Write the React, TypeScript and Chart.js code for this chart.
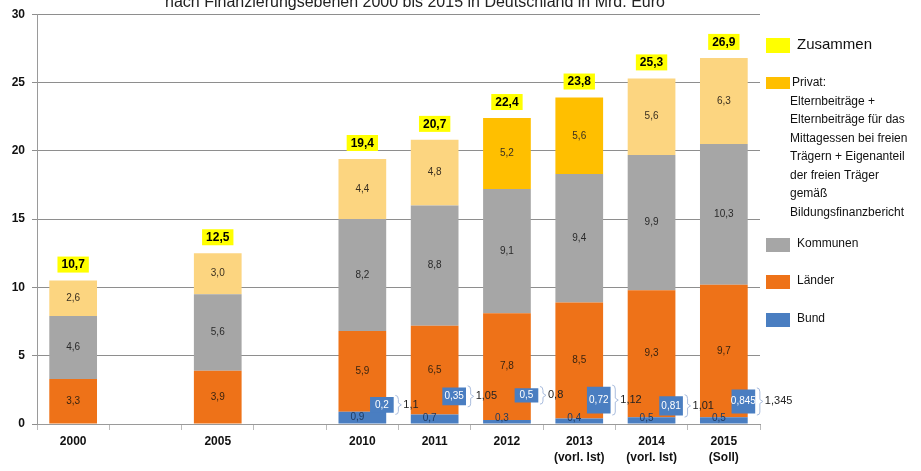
import React, { useEffect, useRef } from 'react';
import { Chart, registerables } from 'chart.js';

Chart.register(...registerables);

const FONT = "'Liberation Sans Narrow', 'Liberation Sans', Arial, sans-serif";

const titleText = 'nach Finanzierungsebenen 2000 bis 2015 in Deutschland in Mrd. Euro';

const categories: (string | string[])[] = [
  '2000', '', '2005', '', '2010', '2011', '2012',
  ['2013', '(vorl. Ist)'], ['2014', '(vorl. Ist)'], ['2015', '(Soll)'],
];
const bund = [null, null, null, null, 0.9, 0.7, 0.3, 0.4, 0.5, 0.5];
const laender = [3.3, null, 3.9, null, 5.9, 6.5, 7.8, 8.5, 9.3, 9.7];
const kommunen = [4.6, null, 5.6, null, 8.2, 8.8, 9.1, 9.4, 9.9, 10.3];
const privat = [2.6, null, 3.0, null, 4.4, 4.8, 5.2, 5.6, 5.6, 6.3];
const zusammen = [10.7, null, 12.5, null, 19.4, 20.7, 22.4, 23.8, 25.3, 26.9];

// extra federal funds shown as small boxes beside the bars (2010-2015)
const sideCategoryIndex = [4, 5, 6, 7, 8, 9];
const sideLow = [0.85, 1.4, 1.6, 0.8, 0.65, 0.8];
const sideHigh = [1.95, 2.65, 2.6, 2.7, 2.0, 2.5];
const sideLabels = ['0,2', '0,35', '0,5', '0,72', '0,81', '0,845'];
const bracketLabels = ['1,1', '1,05', '0,8', '1,12', '1,01', '1,345'];

const legendPrivatLines = [
  'Privat:',
  'Elternbeiträge +',
  'Elternbeiträge für das',
  'Mittagessen bei freien',
  'Trägern + Eigenanteil',
  'der freien Träger',
  'gemäß',
  'Bildungsfinanzbericht',
];

const C_BUND = '#4A7EC1';
const C_LAENDER = '#EE7218';
const C_KOMMUNEN = '#A6A6A6';
const C_PRIVAT = '#FCD580';
const C_PRIVAT_DARK = '#FFBF00';
const C_ZUSAMMEN = '#FFFF00';

function fmt(v: number) {
  return v.toFixed(1).replace('.', ',');
}

export default function App() {
  const ref = useRef<HTMLCanvasElement>(null);

  useEffect(() => {
    const canvas = ref.current!;

    const titlePlugin = {
      id: 'cutTitle',
      afterDraw(chart: any) {
        const ctx = chart.ctx;
        ctx.save();
        ctx.font = `16px ${FONT}`;
        ctx.fillStyle = '#222';
        ctx.textAlign = 'center';
        ctx.textBaseline = 'alphabetic';
        ctx.fillText(titleText, 415, 7);
        ctx.restore();
      },
    };

    const labelPlugin = {
      id: 'valueLabels',
      afterDatasetsDraw(chart: any) {
        const ctx = chart.ctx;
        const ys = chart.scales.y;
        const xs = chart.scales.x;
        ctx.save();
        ctx.textAlign = 'center';
        ctx.textBaseline = 'middle';
        const colors = ['#1F3A60', '#3A2410', '#2A2A2A', '#3A3020'];
        [0, 1, 2, 3].forEach((di) => {
          const meta = chart.getDatasetMeta(di);
          const data = chart.data.datasets[di].data;
          meta.data.forEach((el: any, i: number) => {
            const v = data[i];
            if (v == null) return;
            let cy = (el.y + el.base) / 2;
            let cx = el.x;
            if (di === 0) {
              cy = Math.min(cy, ys.bottom - 6);
              cx -= 5;
            }
            ctx.font = `10px ${FONT}`;
            ctx.fillStyle = colors[di];
            ctx.fillText(fmt(v), cx, cy);
          });
        });

        // totals
        zusammen.forEach((tot, i) => {
          if (tot == null) return;
          const sum = [bund, laender, kommunen, privat].reduce((s, a) => s + ((a[i] as number) ?? 0), 0);
          const x = xs.getPixelForValue(i);
          const top = ys.getPixelForValue(sum);
          const txt = fmt(tot);
          ctx.font = `bold 12px ${FONT}`;
          const w = ctx.measureText(txt).width + 8;
          const h = 16;
          const by = top - 8 - h;
          ctx.fillStyle = C_ZUSAMMEN;
          ctx.fillRect(x - w / 2, by, w, h);
          ctx.fillStyle = '#000';
          ctx.fillText(txt, x, by + h / 2 + 0.5);
        });

        // side boxes labels + brackets
        const sm = chart.getDatasetMeta(4);
        sm.data.forEach((el: any, i: number) => {
          const yt = Math.min(el.y, el.base);
          const yb = Math.max(el.y, el.base);
          const mid = (yt + yb) / 2;
          ctx.font = `10px ${FONT}`;
          ctx.fillStyle = '#FFFFFF';
          ctx.textAlign = 'center';
          ctx.fillText(sideLabels[i], el.x, mid);
          const xr = el.x + el.width / 2 + 2;
          ctx.strokeStyle = '#A9BCDD';
          ctx.lineWidth = 1;
          ctx.beginPath();
          ctx.moveTo(xr, yt - 2);
          ctx.quadraticCurveTo(xr + 3, yt - 2, xr + 3, yt + 2);
          ctx.lineTo(xr + 3, mid - 2);
          ctx.lineTo(xr + 6, mid);
          ctx.lineTo(xr + 3, mid + 2);
          ctx.lineTo(xr + 3, yb - 1);
          ctx.quadraticCurveTo(xr + 3, yb + 2, xr, yb + 2);
          ctx.stroke();
          ctx.fillStyle = '#222';
          ctx.textAlign = 'left';
          ctx.font = `11px ${FONT}`;
          ctx.fillText(bracketLabels[i], xr + 8, mid);
        });
        ctx.restore();
      },
    };

    const legendPlugin = {
      id: 'sideLegend',
      afterDraw(chart: any) {
        const ctx = chart.ctx;
        const x0 = chart.chartArea.right + 6;
        ctx.save();
        ctx.textBaseline = 'middle';
        ctx.textAlign = 'left';
        // Zusammen
        ctx.fillStyle = C_ZUSAMMEN;
        ctx.fillRect(x0, 38, 24, 15);
        ctx.fillStyle = '#111';
        ctx.font = `15px ${FONT}`;
        ctx.fillText('Zusammen', x0 + 31, 45);
        // Privat
        ctx.fillStyle = C_PRIVAT_DARK;
        ctx.fillRect(x0, 77, 24, 12);
        ctx.fillStyle = '#111';
        ctx.font = `12px ${FONT}`;
        legendPrivatLines.forEach((l, k) => {
          ctx.fillText(l, x0 + (k === 0 ? 26 : 24), 83 + k * 18.5);
        });
        // Kommunen, Länder, Bund
        const items = [
          { c: C_KOMMUNEN, t: 'Kommunen', y: 238 },
          { c: C_LAENDER, t: 'Länder', y: 275 },
          { c: C_BUND, t: 'Bund', y: 313 },
        ];
        items.forEach((it) => {
          ctx.fillStyle = it.c;
          ctx.fillRect(x0, it.y, 24, 14);
          ctx.fillStyle = '#111';
          ctx.font = `12px ${FONT}`;
          ctx.fillText(it.t, x0 + 31, it.y + 6);
        });
        ctx.restore();
      },
    };

    const chart = new Chart(canvas, {
      type: 'bar',
      data: {
        labels: categories,
        datasets: [
          { label: 'Bund', data: bund, backgroundColor: C_BUND, stack: 'main' },
          { label: 'Länder', data: laender, backgroundColor: C_LAENDER, stack: 'main' },
          { label: 'Kommunen', data: kommunen, backgroundColor: C_KOMMUNEN, stack: 'main' },
          {
            label: 'Privat',
            data: privat,
            backgroundColor: (c: any) => (c.dataIndex === 6 || c.dataIndex === 7 ? C_PRIVAT_DARK : C_PRIVAT),
            stack: 'main',
          },
          {
            label: 'Bund (zusätzlich)',
            data: sideCategoryIndex.map((ci, i) => ({ x: ci + 0.27, y: [sideLow[i], sideHigh[i]] })) as any,
            backgroundColor: C_BUND,
            xAxisID: 'xs',
            stack: 'side',
            barThickness: 23,
            order: -1,
          } as any,
        ] as any,
      },
      options: {
        responsive: false,
        animation: false,
        devicePixelRatio: 1,
        layout: { padding: { top: 13, right: 161, left: 0, bottom: 0 } },
        datasets: { bar: { barPercentage: 0.66, categoryPercentage: 1.0, grouped: false } },
        plugins: { legend: { display: false }, tooltip: { enabled: false }, title: { display: false } },
        scales: {
          x: {
            type: 'category',
            stacked: true,
            offset: true,
            grid: { offset: true, drawOnChartArea: false, tickLength: 6, color: '#BBBBBB' },
            border: { color: '#9A9A9A' },
            ticks: {
              font: { family: FONT, size: 12, weight: 'bold', lineHeight: 1.3 },
              color: '#111',
              padding: 4,
              autoSkip: false,
              maxRotation: 0,
            },
            afterFit: (s: any) => { s.height = 47; },
          },
          xs: {
            type: 'linear',
            display: false,
            min: -0.5,
            max: 9.5,
            offset: false,
          },
          y: {
            stacked: true,
            min: 0,
            max: 30,
            ticks: {
              stepSize: 5,
              font: { family: FONT, size: 12, weight: 'bold' },
              color: '#111',
              padding: 7,
            },
            grid: { color: '#8E8E8E', tickLength: 5 },
            border: { color: '#9A9A9A' },
            afterFit: (s: any) => { s.width = 37; },
          },
        } as any,
      },
      plugins: [labelPlugin, legendPlugin, titlePlugin],
    });
    return () => chart.destroy();
  }, []);

  return (
    <div style={{ position: 'absolute', left: 0, top: 0, width: 921, height: 471, background: '#fff' }}>
      <canvas ref={ref} width={921} height={471} />
    </div>
  );
}
